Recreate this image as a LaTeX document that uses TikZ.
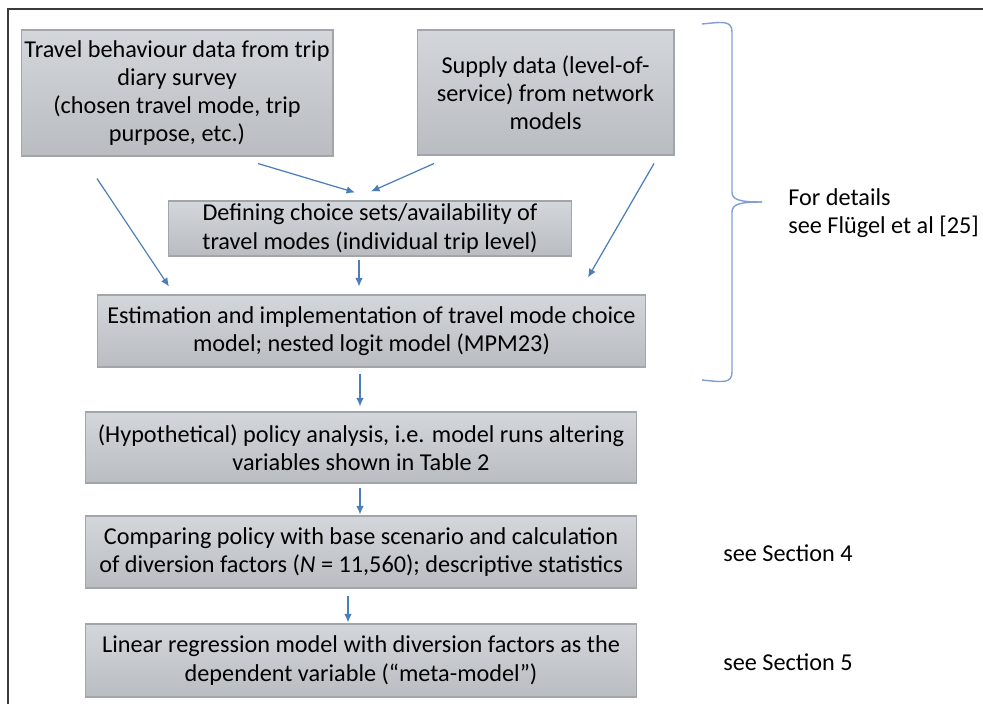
\documentclass[tikz,border=0pt]{standalone}
\usepackage{fontspec}
\setmainfont{Carlito}
\usetikzlibrary{arrows.meta,calc}
\definecolor{boxTop}{HTML}{D3D7DB}
\definecolor{boxBot}{HTML}{B9BDC1}
\definecolor{boxEdge}{HTML}{A2A6AA}
\definecolor{flowBlue}{HTML}{4A7EBB}
\definecolor{braceBlue}{HTML}{7F9FD0}
\definecolor{frameGray}{HTML}{3A3A3A}

\begin{document}
\begin{tikzpicture}[
  x=0.02cm,y=-0.02cm,
  font=\fontsize{13.8}{16}\selectfont,
  >=Latex,
  stepbox/.style={draw=boxEdge, line width=.6pt, top color=boxTop,
                  bottom color=boxBot, align=center, inner sep=0pt},
  flow/.style={->, line width=.7pt, draw=flowBlue,
               -{Latex[length=1.7mm,width=1.5mm]}},
  note/.style={align=left, anchor=west, inner sep=0pt},
]
  \path[use as bounding box] (0,0) rectangle (983,704);

  % frame, cut off at right and bottom
  \draw[frameGray, line width=.9pt] (983,9) -- (8,9) -- (8,704);

  % input data
  \node[stepbox, minimum width=6.24cm, minimum height=2.52cm] (travel)
    at (177,93) {Travel behaviour data from trip\\diary survey\\
    (chosen travel mode, trip\\purpose, etc.)};
  \node[stepbox, minimum width=5.14cm, minimum height=2.50cm] (supply)
    at (545.5,92.5) {Supply data (level-of-\\service) from network\\models};

  % model building
  \node[stepbox, minimum width=8.06cm, minimum height=1.10cm] (choice)
    at (370,228.5) {Defining choice sets/availability of\\
    travel modes (individual trip level)};
  \node[stepbox, minimum width=10.98cm, minimum height=1.44cm] (estim)
    at (371.5,331) {Estimation and implementation of travel mode choice\\
    model; nested logit model (MPM23)};

  % analysis
  \node[stepbox, minimum width=11.04cm, minimum height=1.42cm] (policy)
    at (361,447.5) {(Hypothetical) policy analysis, i.e. model runs altering\\
    variables shown in Table 2};
  \node[stepbox, minimum width=11.04cm, minimum height=1.44cm] (compare)
    at (361,552) {Comparing policy with base scenario and calculation\\
    of diversion factors (\textit{N} = 11,560); descriptive statistics};
  \node[stepbox, minimum width=11.04cm, minimum height=1.46cm] (meta)
    at (361,660.5) {Linear regression model with diversion factors as the\\
    dependent variable (“meta-model”)};

  \draw[flow] ($(travel.south)+(81,7)$) -- ($(choice.north)+(-15,-8)$);
  \draw[flow] ($(supply.south)+(-111.5,8)$) -- ($(choice.north)+(1,-9)$);
  \draw[flow] ($(travel.south)+(-80,22)$) -- ($(estim.north)+(-202.5,-8)$);
  \draw[flow] ($(supply.south)+(108.5,8)$) -- ($(estim.north)+(216.5,-17)$);
  \draw[flow] ($(choice.south)+(-11,3)$) -- ($(estim.north)+(-12.5,-8)$);
  \draw[flow] ($(estim.south)+(-11.5,6)$) -- ($(policy.north)+(-1,-5)$);
  \draw[flow] ($(policy.south)+(-1,4)$) -- ($(compare.north)+(-1,-1)$);
  \draw[flow] ($(compare.south)+(-13,7)$) -- ($(meta.north)+(-13,-1)$);

  % brace over the first part
  \draw[braceBlue, line width=.8pt]
    (702,24) .. controls (722,22) and (732,20) .. (732,32) -- (732,192)
    .. controls (732,200) and (740,202) .. (762,202);
  \draw[braceBlue, line width=.8pt]
    (762,202) .. controls (740,202) and (732,204) .. (732,212) -- (732,372)
    .. controls (732,384) and (722,382) .. (702,380);

  \node[note] (details) at (788,213) {For details\\see Flügel et al [25]};
  \node[note] (sec4) at (723,553) {see Section 4};
  \node[note] (sec5) at (723,662) {see Section 5};
\end{tikzpicture}
\end{document}
